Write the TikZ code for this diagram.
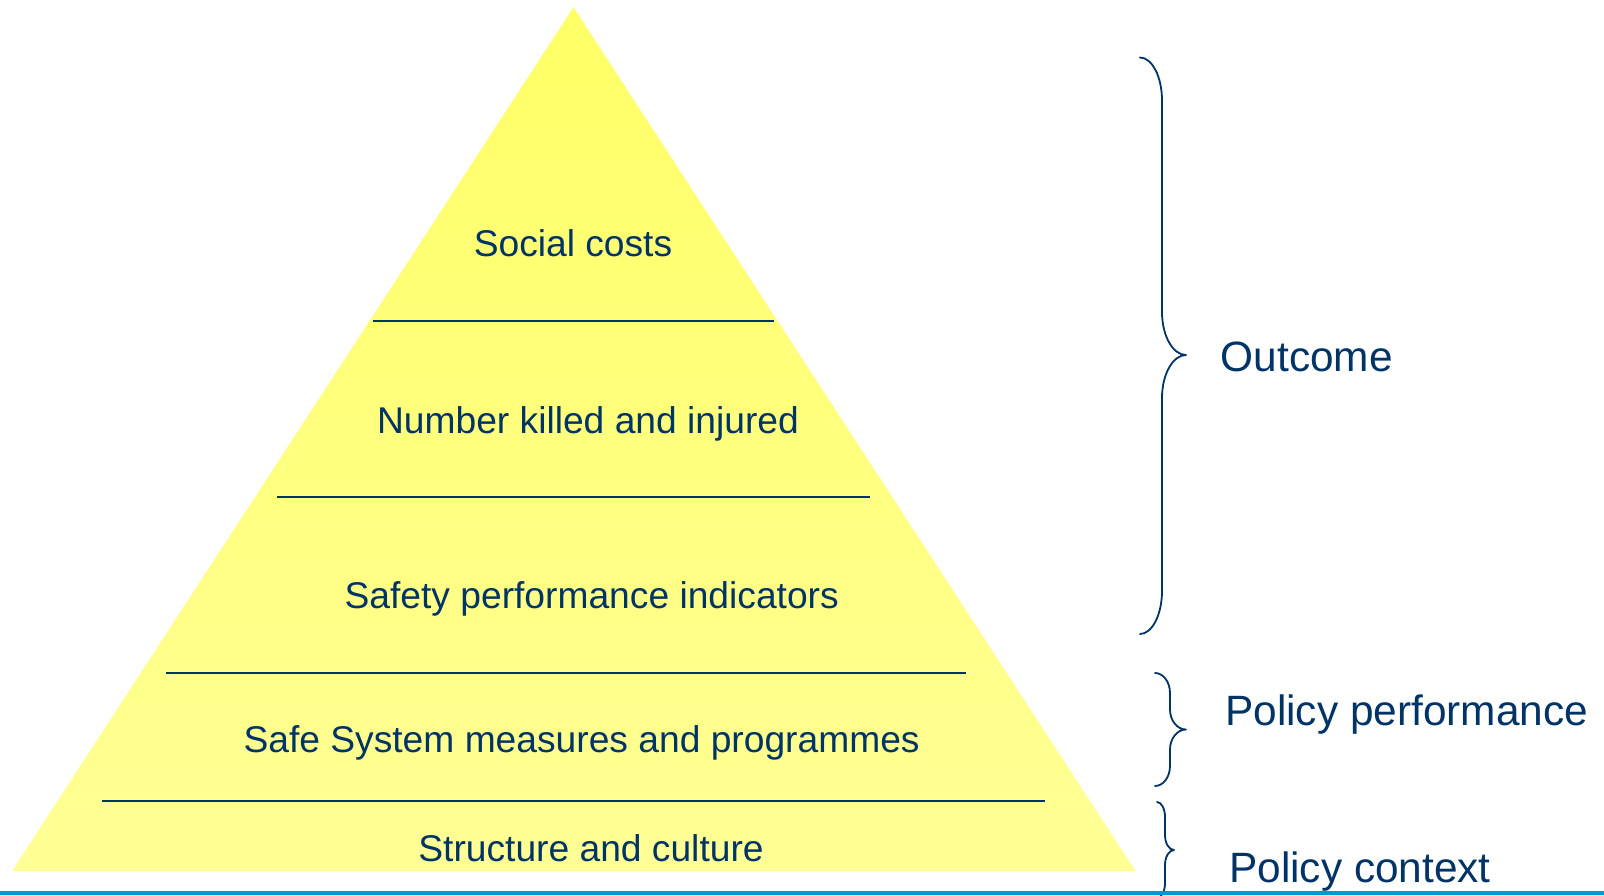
\documentclass[tikz,border=0pt]{standalone}
\usepackage{fontspec}
\setmainfont{Liberation Sans}
\definecolor{navy}{RGB}{0,51,102}
\definecolor{pyrtop}{RGB}{255,255,102}
\definecolor{pyrbot}{RGB}{255,255,150}
\definecolor{barblue}{RGB}{0,153,204}
% curly bracket: end x, spine x, tip x, top y, tip y, bottom y, curl size
\newcommand\drawbracket[7]{%
  \draw[bracket] (#1,#4)
       .. controls ({#1+0.55*(#2-#1)},#4) and (#2,{#4+0.45*#7}) .. (#2,#4+#7)
    -- (#2,#5-#7)
       .. controls (#2,{#5-0.45*#7}) and ({#3-0.55*(#3-#2)},#5) .. (#3,#5)
       .. controls ({#3-0.55*(#3-#2)},#5) and (#2,{#5+0.45*#7}) .. (#2,#5+#7)
    -- (#2,#6-#7)
       .. controls (#2,{#6-0.45*#7}) and ({#1+0.55*(#2-#1)},#6) .. (#1,#6);}
\begin{document}
\begin{tikzpicture}[x=1pt,y=-1pt,
  tier/.style={anchor=base, inner sep=0pt, text=navy,
    font=\fontsize{37.2}{40}\selectfont},
  level/.style={anchor=base west, inner sep=0pt, text=navy,
    font=\fontsize{42.4}{46}\selectfont},
  divider/.style={draw=navy, line width=2pt},
  bracket/.style={draw=navy, line width=1.8pt, line cap=round, line join=round}]
\useasboundingbox (0,0) rectangle (1604,895);

% pyramid body
\coordinate (apex) at (573.5,7.3);
\coordinate (bl) at (12,871);
\coordinate (br) at (1135.5,871);
\shade[top color=pyrtop, bottom color=pyrbot] (apex) -- (br) -- (bl) -- cycle;

% tier dividers
\draw[divider] (373,321) -- (774,321);
\draw[divider] (277,497) -- (870,497);
\draw[divider] (166,673) -- (966,673);
\draw[divider] (102,801) -- (1045,801);

% tier labels
\node[tier] (costs)     at (573,256.3)   {Social costs};
\node[tier] (killed)    at (588,433)     {Number killed and injured};
\node[tier] (spi)       at (591.7,608.5) {Safety performance indicators};
\node[tier] (measures)  at (581.6,752.5) {Safe System measures and programmes};
\node[tier] (structure) at (591,861)     {Structure and culture};

% grouping brackets
\drawbracket{1140}{1162}{1186}{57.5}{355}{634}{43}
\drawbracket{1155}{1170}{1186}{673}{729.5}{786}{20}
\drawbracket{1157}{1165}{1174}{802}{850}{898}{15}

% group labels
\node[level] (outcome) at (1220.5,371.5) {Outcome};
\node[level] (perf)    at (1225,725.5)   {Policy performance};
\node[level] (context) at (1229,882)     {Policy context};

% footer bar
\fill[barblue] (0,891) rectangle (1604,895);
\end{tikzpicture}
\end{document}
